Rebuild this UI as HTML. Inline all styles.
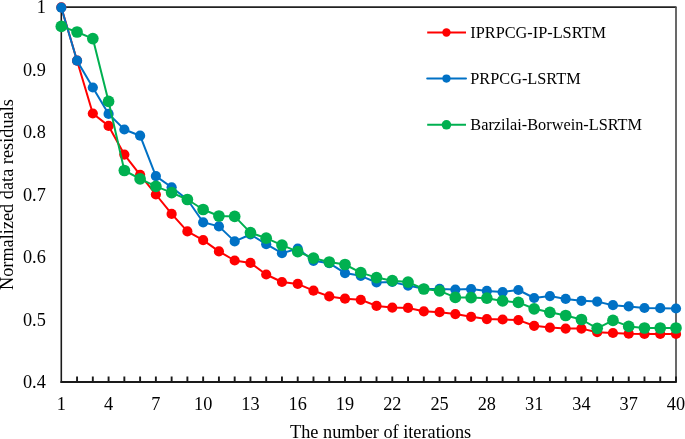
<!DOCTYPE html>
<html><head><meta charset="utf-8"><style>
html,body{margin:0;padding:0;background:#fff;width:685px;height:439px;overflow:hidden;}
svg{display:block;will-change:transform;}
text{font-family:"Liberation Serif", serif;}
</style></head><body>
<svg width="685" height="439" viewBox="0 0 685 439">
<rect width="685" height="439" fill="#fff"/>
<line x1="61.3" y1="7.1" x2="676.5" y2="7.1" stroke="#222" stroke-width="1.9"/>
<line x1="676" y1="7" x2="676" y2="382.0" stroke="#4f4f4f" stroke-width="1.7"/>
<path d="M77.06 382.0 V376.40M92.82 382.0 V376.40M108.58 382.0 V376.40M124.35 382.0 V376.40M140.11 382.0 V376.40M155.87 382.0 V376.40M171.63 382.0 V376.40M187.39 382.0 V376.40M203.15 382.0 V376.40M218.92 382.0 V376.40M234.68 382.0 V376.40M250.44 382.0 V376.40M266.20 382.0 V376.40M281.96 382.0 V376.40M297.72 382.0 V376.40M313.48 382.0 V376.40M329.25 382.0 V376.40M345.01 382.0 V376.40M360.77 382.0 V376.40M376.53 382.0 V376.40M392.29 382.0 V376.40M408.05 382.0 V376.40M423.82 382.0 V376.40M439.58 382.0 V376.40M455.34 382.0 V376.40M471.10 382.0 V376.40M486.86 382.0 V376.40M502.62 382.0 V376.40M518.38 382.0 V376.40M534.15 382.0 V376.40M549.91 382.0 V376.40M565.67 382.0 V376.40M581.43 382.0 V376.40M597.19 382.0 V376.40M612.95 382.0 V376.40M628.72 382.0 V376.40M644.48 382.0 V376.40M660.24 382.0 V376.40M676.00 382.0 V376.40" stroke="#1a1a1a" stroke-width="1.9" fill="none"/>
<line x1="61.3" y1="6.1" x2="61.3" y2="382.9" stroke="#1a1a1a" stroke-width="1.6"/>
<line x1="60.5" y1="382.0" x2="676.8" y2="382.0" stroke="#1a1a1a" stroke-width="1.9"/>
<g font-family="Liberation Serif, serif" font-size="18.3" fill="#000"><text x="45.8" y="13.40" text-anchor="end">1</text><text x="45.8" y="75.90" text-anchor="end">0.9</text><text x="45.8" y="138.40" text-anchor="end">0.8</text><text x="45.8" y="200.90" text-anchor="end">0.7</text><text x="45.8" y="263.40" text-anchor="end">0.6</text><text x="45.8" y="325.90" text-anchor="end">0.5</text><text x="45.8" y="388.40" text-anchor="end">0.4</text></g>
<g font-family="Liberation Serif, serif" font-size="18.3" fill="#000"><text x="61.30" y="409.7" text-anchor="middle">1</text><text x="108.58" y="409.7" text-anchor="middle">4</text><text x="155.87" y="409.7" text-anchor="middle">7</text><text x="203.15" y="409.7" text-anchor="middle">10</text><text x="250.44" y="409.7" text-anchor="middle">13</text><text x="297.72" y="409.7" text-anchor="middle">16</text><text x="345.01" y="409.7" text-anchor="middle">19</text><text x="392.29" y="409.7" text-anchor="middle">22</text><text x="439.58" y="409.7" text-anchor="middle">25</text><text x="486.86" y="409.7" text-anchor="middle">28</text><text x="534.15" y="409.7" text-anchor="middle">31</text><text x="581.43" y="409.7" text-anchor="middle">34</text><text x="628.72" y="409.7" text-anchor="middle">37</text><text x="676.00" y="409.7" text-anchor="middle">40</text></g>
<text x="290.0" y="438.3" font-family="Liberation Serif, serif" font-size="18.3" fill="#000">The number of iterations</text>
<text transform="translate(13.0,194.6) rotate(-90)" text-anchor="middle" font-family="Liberation Serif, serif" font-size="18.3" fill="#000">Normalized data residuals</text>
<polyline points="61.30,7.30 77.06,60.70 92.82,113.50 108.58,125.90 124.35,154.60 140.11,174.80 155.87,194.50 171.63,213.90 187.39,231.40 203.15,240.10 218.92,251.40 234.68,260.50 250.44,262.90 266.20,274.50 281.96,282.00 297.72,283.90 313.48,290.70 329.25,296.40 345.01,298.70 360.77,299.80 376.53,305.90 392.29,307.60 408.05,307.90 423.82,311.30 439.58,312.20 455.34,314.10 471.10,316.80 486.86,319.10 502.62,319.50 518.38,320.10 534.15,325.80 549.91,327.60 565.67,328.60 581.43,328.60 597.19,332.20 612.95,333.00 628.72,333.70 644.48,334.00 660.24,334.00 676.00,334.00" fill="none" stroke="#FF0000" stroke-width="2.0" stroke-linejoin="round"/>
<g fill="#FF0000"><circle cx="61.30" cy="7.30" r="5.1"/><circle cx="77.06" cy="60.70" r="5.1"/><circle cx="92.82" cy="113.50" r="5.1"/><circle cx="108.58" cy="125.90" r="5.1"/><circle cx="124.35" cy="154.60" r="5.1"/><circle cx="140.11" cy="174.80" r="5.1"/><circle cx="155.87" cy="194.50" r="5.1"/><circle cx="171.63" cy="213.90" r="5.1"/><circle cx="187.39" cy="231.40" r="5.1"/><circle cx="203.15" cy="240.10" r="5.1"/><circle cx="218.92" cy="251.40" r="5.1"/><circle cx="234.68" cy="260.50" r="5.1"/><circle cx="250.44" cy="262.90" r="5.1"/><circle cx="266.20" cy="274.50" r="5.1"/><circle cx="281.96" cy="282.00" r="5.1"/><circle cx="297.72" cy="283.90" r="5.1"/><circle cx="313.48" cy="290.70" r="5.1"/><circle cx="329.25" cy="296.40" r="5.1"/><circle cx="345.01" cy="298.70" r="5.1"/><circle cx="360.77" cy="299.80" r="5.1"/><circle cx="376.53" cy="305.90" r="5.1"/><circle cx="392.29" cy="307.60" r="5.1"/><circle cx="408.05" cy="307.90" r="5.1"/><circle cx="423.82" cy="311.30" r="5.1"/><circle cx="439.58" cy="312.20" r="5.1"/><circle cx="455.34" cy="314.10" r="5.1"/><circle cx="471.10" cy="316.80" r="5.1"/><circle cx="486.86" cy="319.10" r="5.1"/><circle cx="502.62" cy="319.50" r="5.1"/><circle cx="518.38" cy="320.10" r="5.1"/><circle cx="534.15" cy="325.80" r="5.1"/><circle cx="549.91" cy="327.60" r="5.1"/><circle cx="565.67" cy="328.60" r="5.1"/><circle cx="581.43" cy="328.60" r="5.1"/><circle cx="597.19" cy="332.20" r="5.1"/><circle cx="612.95" cy="333.00" r="5.1"/><circle cx="628.72" cy="333.70" r="5.1"/><circle cx="644.48" cy="334.00" r="5.1"/><circle cx="660.24" cy="334.00" r="5.1"/><circle cx="676.00" cy="334.00" r="5.1"/></g>

<polyline points="61.30,7.70 77.06,60.70 92.82,87.50 108.58,113.90 124.35,129.50 140.11,135.70 155.87,176.10 171.63,187.30 187.39,199.50 203.15,222.30 218.92,226.40 234.68,241.40 250.44,234.50 266.20,244.20 281.96,253.20 297.72,248.60 313.48,260.80 329.25,263.20 345.01,273.10 360.77,275.80 376.53,282.50 392.29,282.00 408.05,285.60 423.82,288.80 439.58,288.90 455.34,289.60 471.10,289.10 486.86,290.90 502.62,292.00 518.38,290.00 534.15,298.00 549.91,296.10 565.67,298.90 581.43,300.80 597.19,301.60 612.95,305.20 628.72,306.40 644.48,308.00 660.24,308.20 676.00,308.50" fill="none" stroke="#0071C5" stroke-width="2.0" stroke-linejoin="round"/>
<g fill="#0071C5"><circle cx="61.30" cy="7.70" r="5.1"/><circle cx="77.06" cy="60.70" r="5.1"/><circle cx="92.82" cy="87.50" r="5.1"/><circle cx="108.58" cy="113.90" r="5.1"/><circle cx="124.35" cy="129.50" r="5.1"/><circle cx="140.11" cy="135.70" r="5.1"/><circle cx="155.87" cy="176.10" r="5.1"/><circle cx="171.63" cy="187.30" r="5.1"/><circle cx="187.39" cy="199.50" r="5.1"/><circle cx="203.15" cy="222.30" r="5.1"/><circle cx="218.92" cy="226.40" r="5.1"/><circle cx="234.68" cy="241.40" r="5.1"/><circle cx="250.44" cy="234.50" r="5.1"/><circle cx="266.20" cy="244.20" r="5.1"/><circle cx="281.96" cy="253.20" r="5.1"/><circle cx="297.72" cy="248.60" r="5.1"/><circle cx="313.48" cy="260.80" r="5.1"/><circle cx="329.25" cy="263.20" r="5.1"/><circle cx="345.01" cy="273.10" r="5.1"/><circle cx="360.77" cy="275.80" r="5.1"/><circle cx="376.53" cy="282.50" r="5.1"/><circle cx="392.29" cy="282.00" r="5.1"/><circle cx="408.05" cy="285.60" r="5.1"/><circle cx="423.82" cy="288.80" r="5.1"/><circle cx="439.58" cy="288.90" r="5.1"/><circle cx="455.34" cy="289.60" r="5.1"/><circle cx="471.10" cy="289.10" r="5.1"/><circle cx="486.86" cy="290.90" r="5.1"/><circle cx="502.62" cy="292.00" r="5.1"/><circle cx="518.38" cy="290.00" r="5.1"/><circle cx="534.15" cy="298.00" r="5.1"/><circle cx="549.91" cy="296.10" r="5.1"/><circle cx="565.67" cy="298.90" r="5.1"/><circle cx="581.43" cy="300.80" r="5.1"/><circle cx="597.19" cy="301.60" r="5.1"/><circle cx="612.95" cy="305.20" r="5.1"/><circle cx="628.72" cy="306.40" r="5.1"/><circle cx="644.48" cy="308.00" r="5.1"/><circle cx="660.24" cy="308.20" r="5.1"/><circle cx="676.00" cy="308.50" r="5.1"/></g>

<polyline points="61.30,26.40 77.06,32.00 92.82,38.60 108.58,101.40 124.35,170.50 140.11,178.90 155.87,186.40 171.63,192.60 187.39,199.50 203.15,209.50 218.92,216.00 234.68,216.40 250.44,232.60 266.20,238.20 281.96,245.10 297.72,251.70 313.48,258.20 329.25,262.00 345.01,264.50 360.77,272.60 376.53,277.60 392.29,280.70 408.05,282.10 423.82,289.00 439.58,290.80 455.34,297.40 471.10,297.60 486.86,298.20 502.62,300.90 518.38,302.40 534.15,308.80 549.91,312.30 565.67,315.50 581.43,319.50 597.19,328.30 612.95,320.40 628.72,326.40 644.48,328.00 660.24,328.00 676.00,328.00" fill="none" stroke="#00B050" stroke-width="2.0" stroke-linejoin="round"/>
<g fill="#00B050"><circle cx="61.30" cy="26.40" r="5.85"/><circle cx="77.06" cy="32.00" r="5.85"/><circle cx="92.82" cy="38.60" r="5.85"/><circle cx="108.58" cy="101.40" r="5.85"/><circle cx="124.35" cy="170.50" r="5.85"/><circle cx="140.11" cy="178.90" r="5.85"/><circle cx="155.87" cy="186.40" r="5.85"/><circle cx="171.63" cy="192.60" r="5.85"/><circle cx="187.39" cy="199.50" r="5.85"/><circle cx="203.15" cy="209.50" r="5.85"/><circle cx="218.92" cy="216.00" r="5.85"/><circle cx="234.68" cy="216.40" r="5.85"/><circle cx="250.44" cy="232.60" r="5.85"/><circle cx="266.20" cy="238.20" r="5.85"/><circle cx="281.96" cy="245.10" r="5.85"/><circle cx="297.72" cy="251.70" r="5.85"/><circle cx="313.48" cy="258.20" r="5.85"/><circle cx="329.25" cy="262.00" r="5.85"/><circle cx="345.01" cy="264.50" r="5.85"/><circle cx="360.77" cy="272.60" r="5.85"/><circle cx="376.53" cy="277.60" r="5.85"/><circle cx="392.29" cy="280.70" r="5.85"/><circle cx="408.05" cy="282.10" r="5.85"/><circle cx="423.82" cy="289.00" r="5.85"/><circle cx="439.58" cy="290.80" r="5.85"/><circle cx="455.34" cy="297.40" r="5.85"/><circle cx="471.10" cy="297.60" r="5.85"/><circle cx="486.86" cy="298.20" r="5.85"/><circle cx="502.62" cy="300.90" r="5.85"/><circle cx="518.38" cy="302.40" r="5.85"/><circle cx="534.15" cy="308.80" r="5.85"/><circle cx="549.91" cy="312.30" r="5.85"/><circle cx="565.67" cy="315.50" r="5.85"/><circle cx="581.43" cy="319.50" r="5.85"/><circle cx="597.19" cy="328.30" r="5.85"/><circle cx="612.95" cy="320.40" r="5.85"/><circle cx="628.72" cy="326.40" r="5.85"/><circle cx="644.48" cy="328.00" r="5.85"/><circle cx="660.24" cy="328.00" r="5.85"/><circle cx="676.00" cy="328.00" r="5.85"/></g>

<line x1="427.2" y1="32.5" x2="466" y2="32.5" stroke="#FF0000" stroke-width="2" stroke-linecap="butt"/>
<circle cx="446.45" cy="32.5" r="4.2" fill="#FF0000"/>
<text x="470.3" y="38.10" font-family="Liberation Serif, serif" font-size="16.3" fill="#000">IPRPCG-IP-LSRTM</text>
<line x1="427.2" y1="78.55" x2="466" y2="78.55" stroke="#0071C5" stroke-width="2" stroke-linecap="round"/>
<circle cx="446.45" cy="78.55" r="4.1" fill="#0071C5"/>
<text x="470.3" y="84.15" font-family="Liberation Serif, serif" font-size="16.3" fill="#000">PRPCG-LSRTM</text>
<line x1="427.2" y1="124.8" x2="466" y2="124.8" stroke="#00B050" stroke-width="2" stroke-linecap="butt"/>
<circle cx="446.45" cy="124.8" r="4.8" fill="#00B050"/>
<text x="470.3" y="130.40" font-family="Liberation Serif, serif" font-size="16.3" fill="#000">Barzilai-Borwein-LSRTM</text>
</svg>
</body></html>
